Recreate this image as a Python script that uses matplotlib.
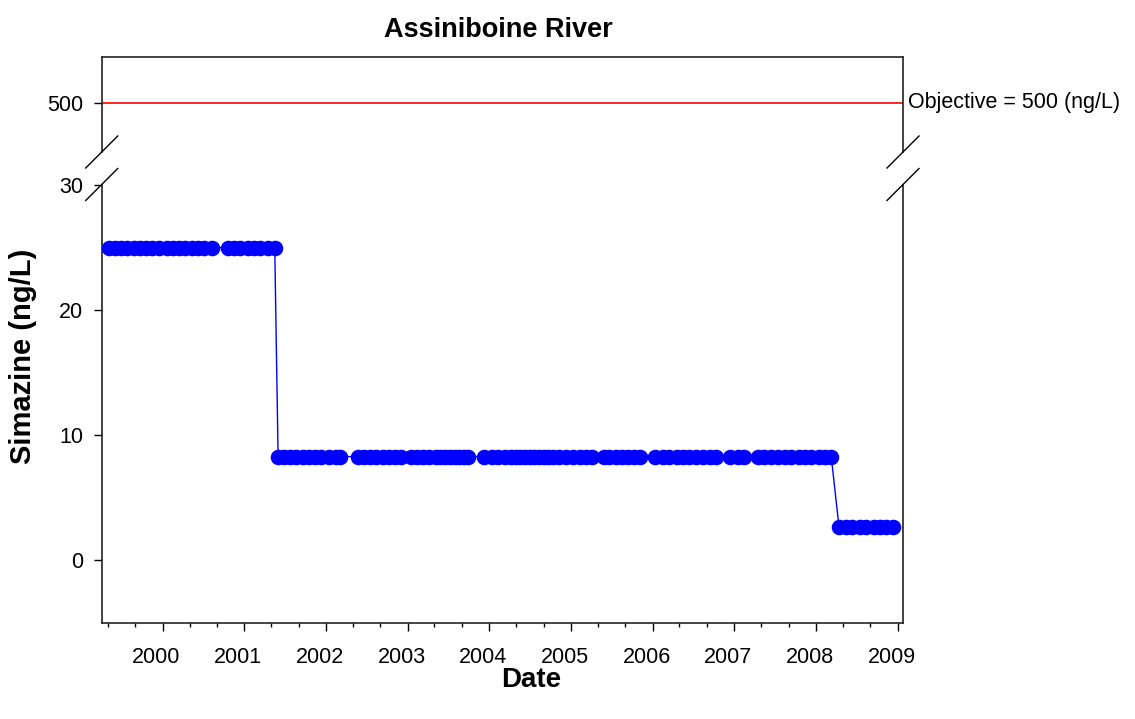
import matplotlib
matplotlib.use("Agg")
import matplotlib.pyplot as plt
import matplotlib.dates as mdates
from matplotlib.lines import Line2D
from matplotlib.transforms import ScaledTranslation
import numpy as np
import pandas as pd

plt.rcParams['font.family'] = ['Liberation Sans', 'DejaVu Sans']

# ---------------- data ----------------
title = "Assiniboine River"
x_label = "Date"
y_label = "Simazine (ng/L)"
objective_value = 500
objective_text = "Objective = 500 (ng/L)"

dates_25 = ["1999-05-05", "1999-06-02", "1999-06-30", "1999-07-28", "1999-08-25",
            "1999-09-22", "1999-10-20", "1999-11-17", "1999-12-15", "2000-01-19",
            "2000-02-16", "2000-03-15", "2000-04-12", "2000-05-10", "2000-06-07",
            "2000-07-05", "2000-08-09",
            "2000-10-18", "2000-11-15", "2000-12-13", "2001-01-17", "2001-02-14",
            "2001-03-14", "2001-04-18", "2001-05-17"]
value_25 = 25.0

dates_8_3 = ["2001-06-01", "2001-06-27", "2001-07-25", "2001-08-22", "2001-09-19",
             "2001-10-17", "2001-11-14", "2001-12-12", "2002-01-16", "2002-02-13",
             "2002-03-06",
             "2002-05-24", "2002-06-19", "2002-07-17", "2002-08-14", "2002-09-11",
             "2002-10-09", "2002-11-06", "2002-12-04", "2003-01-15", "2003-02-12",
             "2003-03-12", "2003-04-09", "2003-05-07", "2003-05-28", "2003-06-18",
             "2003-07-09", "2003-07-30", "2003-08-20", "2003-09-10", "2003-09-28",
             "2003-12-11", "2004-01-14", "2004-02-11", "2004-03-10", "2004-04-07",
             "2004-04-28", "2004-05-19", "2004-06-09", "2004-06-30", "2004-07-21",
             "2004-08-11", "2004-09-01", "2004-09-22", "2004-10-13", "2004-11-10",
             "2004-12-08", "2005-01-12", "2005-02-09", "2005-03-09", "2005-04-04",
             "2005-05-27", "2005-06-22", "2005-07-20", "2005-08-17", "2005-09-14",
             "2005-10-12", "2005-11-05",
             "2006-01-13", "2006-02-15", "2006-03-15", "2006-04-19", "2006-05-17",
             "2006-06-14", "2006-07-12", "2006-08-16", "2006-09-13", "2006-10-11",
             "2006-12-12", "2007-01-17", "2007-02-14", "2007-04-18", "2007-05-16",
             "2007-06-13", "2007-07-18", "2007-08-15", "2007-09-12", "2007-10-17",
             "2007-11-14", "2007-12-12", "2008-01-16", "2008-02-13", "2008-03-10"]
value_8_3 = 8.3

dates_2_65 = ["2008-04-14", "2008-05-14", "2008-06-11", "2008-07-16", "2008-08-13",
              "2008-09-17", "2008-10-15", "2008-11-12", "2008-12-12"]
value_2_65 = 2.65

lower_yticks = [0, 10, 20, 30]
upper_yticks = [500]

sample_dates = pd.to_datetime(dates_25 + dates_8_3 + dates_2_65)
simazine = np.array([value_25] * len(dates_25) + [value_8_3] * len(dates_8_3)
                    + [value_2_65] * len(dates_2_65))

# ---------------- figure ----------------
W, H = 1135, 719
fig = plt.figure(figsize=(W / 100, H / 100), dpi=100)

left = 101.7 / W
right = 903 / W
ax_lo = fig.add_axes([left, 1 - 623 / H, right - left, (623 - 185) / H])
ax_hi = fig.add_axes([left, 1 - 152 / H, right - left, (152 - 57) / H], sharex=ax_lo)

blue = (0, 0, 1)
ax_lo.plot(sample_dates, simazine, '-', color=blue, lw=1.0, zorder=2)
ax_lo.plot(sample_dates, simazine, 'o', color=blue, mec=blue, ms=10.2, zorder=3)

ax_hi.axhline(objective_value, color=(1, 0, 0), lw=1.2)

ax_lo.set_ylim(-5, 30)
ax_hi.set_ylim(448.4, 548.4)
ax_lo.set_xlim(pd.Timestamp("1999-04-04"), pd.Timestamp("2009-01-25"))

tick_fs = 15.5
spine_lw = 1.2
for ax in (ax_lo, ax_hi):
    for s in ax.spines.values():
        s.set_linewidth(spine_lw)
        s.set_color('#222222')
    ax.tick_params(axis='y', which='major', direction='out', length=5.5, width=1.0,
                   labelsize=tick_fs, pad=8, right=False)

ax_lo.spines['top'].set_visible(False)
ax_hi.spines['bottom'].set_visible(False)
ax_lo.set_yticks(lower_yticks)
ax_hi.set_yticks(upper_yticks)

ax_lo.xaxis.set_major_locator(mdates.YearLocator())
ax_lo.xaxis.set_major_formatter(mdates.DateFormatter('%Y'))
ax_lo.xaxis.set_minor_locator(mdates.MonthLocator(bymonth=[1, 5, 9]))
ax_lo.tick_params(axis='x', which='major', direction='out', length=6, width=1.0,
                  labelsize=tick_fs, pad=11.5)
ax_lo.tick_params(axis='x', which='minor', direction='out', length=3, width=1.0)
ax_hi.tick_params(axis='x', which='both', bottom=False, labelbottom=False,
                  top=False, labeltop=False)

# slight left shift of year labels, as in the reference
for lab in ax_lo.get_xticklabels():
    lab.set_transform(lab.get_transform() + ScaledTranslation(-6 / 100, 0, fig.dpi_scale_trans))

ax_hi.annotate(objective_text, xy=(1.0, objective_value),
               xycoords=('axes fraction', 'data'), xytext=(5, 0),
               textcoords='offset pixels', ha='left', va='center',
               fontsize=tick_fs, annotation_clip=False)

# axis-break marks
def brk(xc, yc):
    fig.add_artist(Line2D([(xc - 16) / W, (xc + 16) / W],
                          [1 - (yc + 16) / H, 1 - (yc - 16) / H],
                          color='black', lw=1.0))

for xc in (101.7, 903):
    brk(xc, 152)
    brk(xc, 184.5)

fig.text(498 / W, 1 - 30 / H, title, ha='center', va='center',
         fontsize=19.5, fontweight='bold')
fig.text(531 / W, 1 - 680 / H, x_label, ha='center', va='center',
         fontsize=20, fontweight='bold')
fig.text(23 / W, 1 - 356 / H, y_label, ha='center', va='center',
         rotation=90, fontsize=21, fontweight='bold')

fig.savefig("out.png", dpi=100)
